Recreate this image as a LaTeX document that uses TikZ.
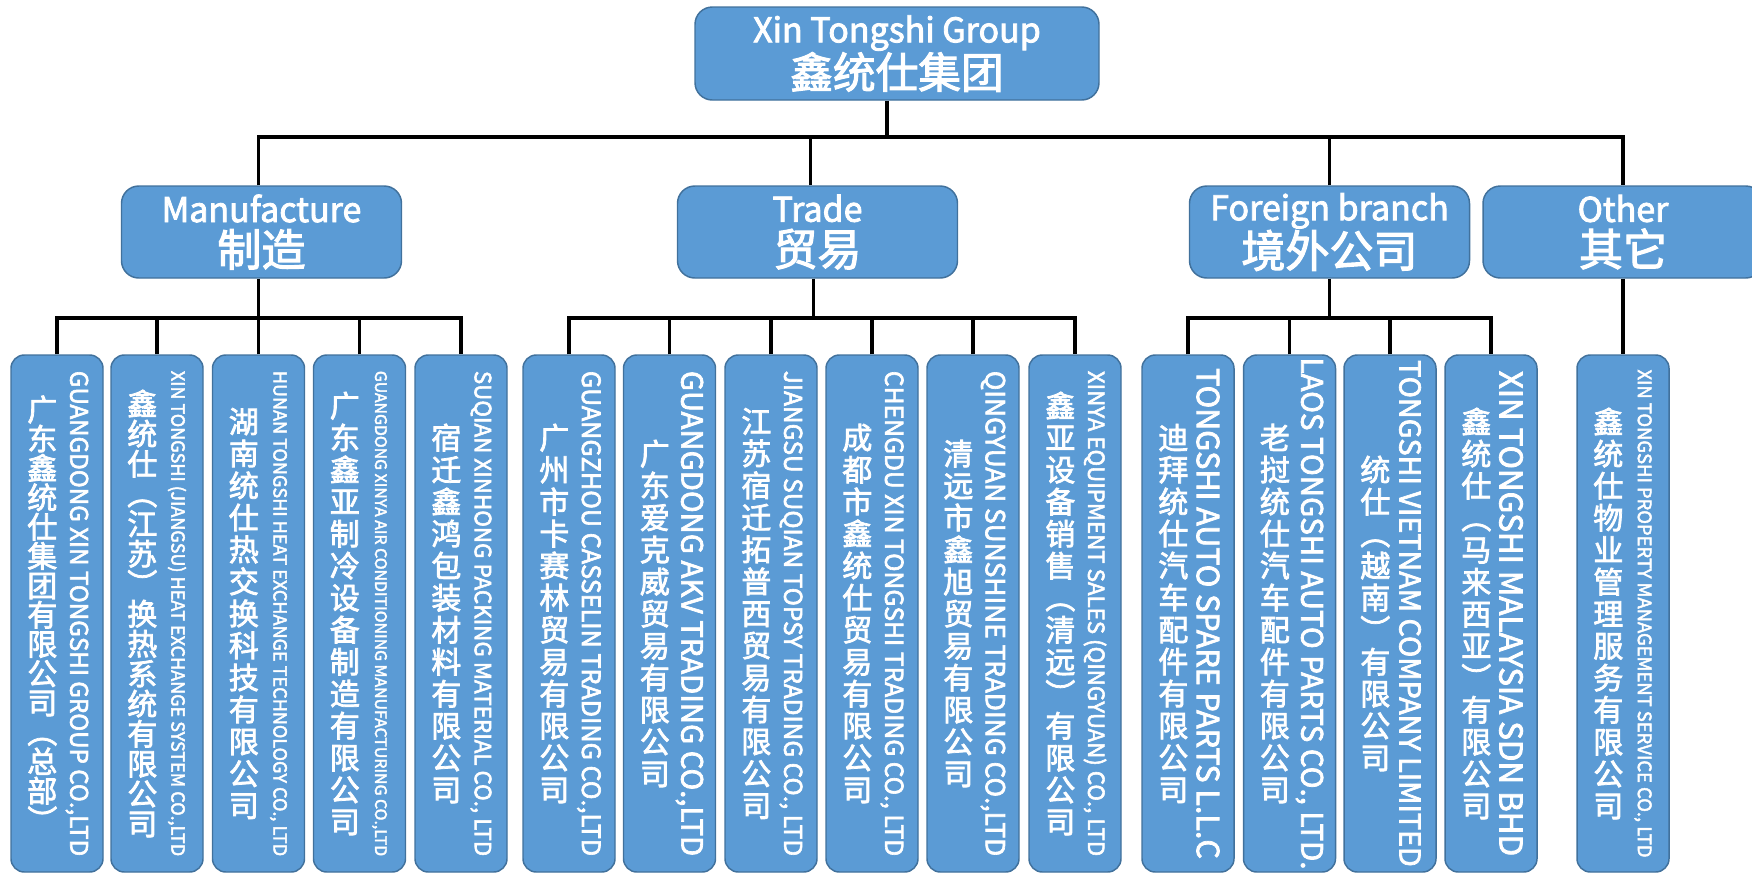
\documentclass[tikz,border=0pt]{standalone}
\usepackage{fontspec}
\usepackage{graphicx}
\setmainfont{Noto Sans CJK SC}[FakeBold=2.5]

\definecolor{boxblue}{RGB}{91,155,213}
\definecolor{boxline}{RGB}{65,113,156}

\tikzset{
  groupbox/.style={draw=boxline, line width=1.1pt, fill=boxblue, rounded corners=13pt, text=white, align=center, inner sep=0pt, minimum width=303pt, minimum height=69.75pt, font=\fontsize{25.5}{33}\selectfont},
  branchbox/.style={groupbox, minimum width=210pt, minimum height=69pt},
  firmbox/.style={draw=boxline, line width=1.1pt, fill=boxblue, rounded corners=10pt, minimum width=69pt, minimum height=387.75pt, inner sep=0pt},
  cnname/.style={text=white, inner sep=0pt},
  enname/.style={text=white, inner sep=0pt, rotate=-90, font=\fontsize{20}{20}\selectfont},
  link/.style={line width=2.3pt, black},
}

% upright characters one under the other
\newcommand\stackcn[1]{\vbox{\lineskiplimit=-\maxdimen\lineskip=0pt\stackcnloop#1\relax}}
\def\stackcnloop#1{\ifx\relax#1\else\hbox to 1em{\hss#1\hss}\expandafter\stackcnloop\fi}

% one company: [pitch] name, x, chinese, english, length of english
\newcommand\firm[6][24pt]{%
  \node[firmbox] (#2) at (#3,613.5) {};
  \node[cnname, font=\fontsize{22.5}{#1}\selectfont] (#2c) at ([xshift=-11pt]#2.center) {\stackcn{#4}};
  \node[enname] (#2e) at ([xshift=15pt]#2.center) {\resizebox{#6}{!}{#5}};
}

\begin{document}
\begin{tikzpicture}[x=0.75pt,y=0.75pt,yscale=-1,xscale=1]
\useasboundingbox (0,0) rectangle (1752,875);
\clip (0,0) rectangle (1752,875);

%Shape: Group
\node[groupbox] (group) at (897,53.5) {Xin Tongshi Group\\{\fontsize{32}{33}\selectfont 鑫统仕集团}};

%Shape: Branches
\node[branchbox] (make) at (261.5,232) {Manufacture\\{\fontsize{33}{33}\selectfont 制造}};
\node[branchbox] (trade) at (817.5,232) {Trade\\{\fontsize{33}{33}\selectfont 贸易}};
\node[branchbox] (abroad) at (1329.5,232) {Foreign branch\\{\fontsize{33}{33}\selectfont 境外公司}};
\node[branchbox] (other) at (1623,232) {Other\\{\fontsize{33}{33}\selectfont 其它}};

%Shape: Companies
\firm[22pt]{make1}{57}{广东鑫统仕集团有限公司︵总部︶}{GUANGDONG XIN TONGSHI GROUP CO.,LTD}{364pt}
\firm[22.5pt]{make2}{157}{鑫统仕︵江苏︶换热系统有限公司}{XIN TONGSHI (JIANGSU) HEAT EXCHANGE SYSTEM CO.,LTD}{364pt}
\firm{make3}{258.5}{湖南统仕热交换科技有限公司}{HUNAN TONGSHI HEAT EXCHANGE TECHNOLOGY CO., LTD}{364pt}
\firm{make4}{359.5}{广东鑫亚制冷设备制造有限公司}{GUANGDONG XINYA AIR CONDITIONING MANUFACTURING CO.,LTD}{364pt}
\firm{make5}{461}{宿迁鑫鸿包装材料有限公司}{SUQIAN XINHONG PACKING MATERIAL CO., LTD}{364pt}
\firm{trade1}{569}{广州市卡赛林贸易有限公司}{GUANGZHOU CASSELIN TRADING CO.,LTD}{364pt}
\firm{trade2}{669.5}{广东爱克威贸易有限公司}{GUANGDONG AKV TRADING CO.,LTD}{364pt}
\firm{trade3}{771}{江苏宿迁拓普西贸易有限公司}{JIANGSU SUQIAN TOPSY TRADING CO., LTD}{364pt}
\firm{trade4}{872}{成都市鑫统仕贸易有限公司}{CHENGDU XIN TONGSHI TRADING CO., LTD}{364pt}
\firm{trade5}{973}{清远市鑫旭贸易有限公司}{QINGYUAN SUNSHINE TRADING CO.,LTD}{364pt}
\firm{trade6}{1075}{鑫亚设备销售︵清远︶有限公司}{XINYA EQUIPMENT SALES (QINGYUAN) CO., LTD}{364pt}
\firm{abroad1}{1188}{迪拜统仕汽车配件有限公司}{TONGSHI AUTO SPARE PARTS L.L.C}{368pt}
\firm{abroad2}{1289.5}{老挝统仕汽车配件有限公司}{LAOS TONGSHI AUTO PARTS CO., LTD.}{384pt}
\firm{abroad3}{1390}{统仕︵越南︶有限公司}{TONGSHI VIETNAM COMPANY LIMITED}{380pt}
\firm{abroad4}{1491}{鑫统仕︵马来西亚︶有限公司}{XIN TONGSHI MALAYSIA SDN BHD}{364pt}
\firm{other1}{1623}{鑫统仕物业管理服务有限公司}{XIN TONGSHI PROPERTY MANAGEMENT SERVICE CO., LTD}{366pt}

%Straight Lines: group to branches
\coordinate (hub) at (887,137);
\draw[link] (group.south -| hub) -- (hub);
\draw[link] ([xshift=-2pt]make.north) |- (hub) -| (other.north);
\draw[link] ([xshift=-5pt]trade.north) -- ([xshift=-5pt]trade.north |- hub);
\draw[link] (abroad.north) -- (abroad.north |- hub);

%Straight Lines: branches to companies
\coordinate (bus) at (0,318);
\draw[link] ([xshift=-2pt]make.south) -- ([xshift=-2pt]make.south |- bus);
\draw[link] (make1.north) |- (make5.north |- bus) -- (make5.north);
\foreach \i in {2,3,4} \draw[link] (make\i.north) -- (make\i.north |- bus);
\draw[link] ([xshift=-3pt]trade.south) -- ([xshift=-3pt]trade.south |- bus);
\draw[link] (trade1.north) |- (trade6.north |- bus) -- (trade6.north);
\foreach \i in {2,...,5} \draw[link] (trade\i.north) -- (trade\i.north |- bus);
\draw[link] (abroad.south) -- (abroad.south |- bus);
\draw[link] (abroad1.north) |- (abroad4.north |- bus) -- (abroad4.north);
\foreach \i in {2,3} \draw[link] (abroad\i.north) -- (abroad\i.north |- bus);
\draw[link] (other.south) -- (other1.north);

\end{tikzpicture}
\end{document}
